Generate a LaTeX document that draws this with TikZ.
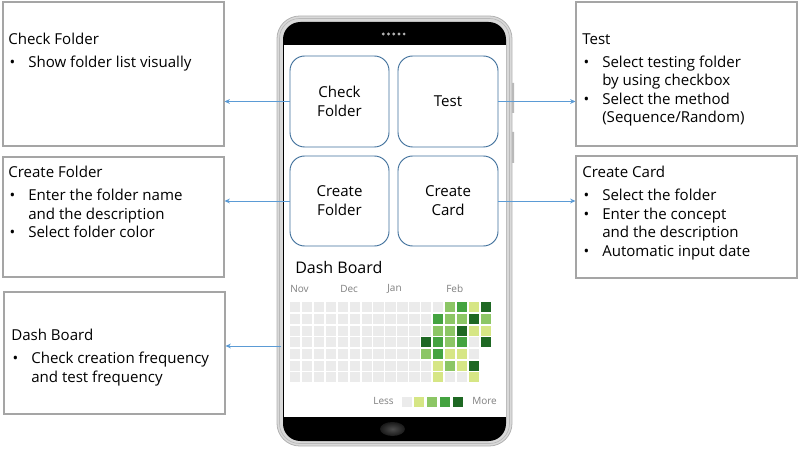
\documentclass[tikz,border=0pt]{standalone}
\usepackage{fontspec}
\setmainfont{Open Sans}
\usetikzlibrary{arrows.meta,fit}

\definecolor{boxline}{HTML}{A5A5A5}
\definecolor{linkblue}{HTML}{5B9BD5}
\definecolor{btnline}{HTML}{41719C}
\definecolor{lvlzero}{HTML}{EBEBEB}
\definecolor{lvlone}{HTML}{D6E685}
\definecolor{lvltwo}{HTML}{8CC665}
\definecolor{lvlthree}{HTML}{44A340}
\definecolor{lvlfour}{HTML}{1E6823}
\definecolor{monthgray}{HTML}{7F7F7F}

\newcommand{\bul}{\makebox[15pt][l]{\hspace{1pt}\textbullet}}
\newcommand{\cont}{\hspace*{15pt}}

\tikzset{
  infobox/.style={draw=boxline, line width=.8pt, inner sep=0pt},
  infotext/.style={anchor=north west, inner sep=0pt, align=left, font=\fontsize{11.3}{13.9}\selectfont},
  appbtn/.style={draw=btnline, line width=.7pt, rounded corners=11pt, inner sep=0pt},
  btntext/.style={inner sep=0pt, align=center, font=\fontsize{11.3}{14.2}\selectfont},
  link/.style={draw=linkblue, line width=.6pt, ->},
  month/.style={anchor=west, inner sep=0pt, text=monthgray, font=\fontsize{7.5}{9}\selectfont}
}

\begin{document}
\begin{tikzpicture}[x=0.75pt,y=-0.75pt,>={Stealth[length=4pt,width=3.6pt]}]
\useasboundingbox (0,0) rectangle (800,449);

\fill[gray!55] (509,83) rectangle (514,113) (509,132) rectangle (514,163);
\draw[gray!60,fill=gray!30,line width=.6pt,rounded corners=17pt] (277,16) rectangle (512,446);
\draw[gray!55,line width=.5pt,rounded corners=15pt] (279.5,18.5) rectangle (509.5,443.5);
\fill[black,rounded corners=13pt] (283,22) rectangle (506,441);
\fill[white] (283.5,45) rectangle (505.5,417);
\foreach \i in {0,...,4}
	\fill[gray!60] ({383.3+5.2*\i},34) circle (1.6);
\shade[inner color=gray!60!black, outer color=black!90] (392.5,429) ellipse (12.5 and 7);

\node[appbtn, fit={(290,56) (389,147)}] (btnCheck) {};
\node[appbtn, fit={(398,56) (498,147)}] (btnTest) {};
\node[appbtn, fit={(290,156) (389,246)}] (btnFolder) {};
\node[appbtn, fit={(398,156) (498,246)}] (btnCard) {};
\node[btntext] (lblCheck) at (btnCheck.center) {Check\\Folder};
\node[btntext] (lblTest) at (btnTest.center) {Test};
\node[btntext] (lblFolder) at (btnFolder.center) {Create\\Folder};
\node[btntext] (lblCard) at (btnCard.center) {Create\\Card};

\node[anchor=west, inner sep=0pt, font=\fontsize{12}{14}\selectfont] (dashTitle) at (295,267) {Dash Board};
\node[month] (mNov) at (290,289) {Nov};
\node[month] (mDec) at (340,289) {Dec};
\node[month] (mJan) at (387,289) {Jan};
\node[month] (mFeb) at (446,289) {Feb};

\foreach \c in {0,...,15}
	\foreach \r in {0,...,6}
		\fill[lvlzero] ({290+11.92*\c},{302.3+11.67*\r}) rectangle +(10.3,10);
\foreach \r in {0,...,3}
	\fill[lvlzero] ({290+11.92*16},{302.3+11.67*\r}) rectangle +(10.3,10);
\foreach \c/\r in {15/0,15/2,16/2,13/4,14/4,12/5,14/5,12/6,15/6}
	\fill[lvlone] ({290+11.92*\c},{302.3+11.67*\r}) rectangle +(10.3,10);
\foreach \c/\r in {13/0,13/1,14/1,16/1,12/2,13/2,13/3,11/4,13/5}
	\fill[lvltwo] ({290+11.92*\c},{302.3+11.67*\r}) rectangle +(10.3,10);
\foreach \c/\r in {14/0,12/1,12/3,14/3,12/4}
	\fill[lvlthree] ({290+11.92*\c},{302.3+11.67*\r}) rectangle +(10.3,10);
\foreach \c/\r in {16/0,15/1,14/2,11/3,16/3,15/5}
	\fill[lvlfour] ({290+11.92*\c},{302.3+11.67*\r}) rectangle +(10.3,10);

\node[month, anchor=east] (lgLess) at (394,401) {Less};
\foreach \lvl [count=\i from 0] in {lvlzero,lvlone,lvltwo,lvlthree,lvlfour}
	\fill[\lvl] ({401.7+12.7*\i},396.5) rectangle +(10,10);
\node[month] (lgMore) at (472,401) {More};

\node[infobox, fit={(3,2) (224,146)}] (boxCheck) {};
\node[infobox, fit={(576,2) (797,146)}] (boxTest) {};
\node[infobox, fit={(3,157) (224,277)}] (boxFolder) {};
\node[infobox, fit={(576,156) (797,278)}] (boxCard) {};
\node[infobox, fit={(4,292) (225,414)}] (boxDash) {};

\node[infotext] (txtCheck) at (8,33) {Check Folder\\[3.35pt]\bul Show folder list visually};
\node[infotext] (txtTest) at (582,33) {Test\\[3.35pt]\bul Select testing folder\\\cont by using checkbox\\\bul Select the method\\\cont (Sequence/Random)};
\node[infotext] (txtFolder) at (8,166) {Create Folder\\[3.35pt]\bul Enter the folder name\\\cont and the description\\\bul Select folder color};
\node[infotext] (txtCard) at (582,166) {Create Card\\[3.35pt]\bul Select the folder\\\bul Enter the concept\\\cont and the description\\\bul Automatic input date};
\node[infotext] (txtDash) at (11,329) {Dash Board\\[3.35pt]\bul Check creation frequency\\\cont and test frequency};

\draw[link] (btnCheck.west) -- (btnCheck.west -| boxCheck.east);
\draw[link] (btnFolder.west) -- (btnFolder.west -| boxFolder.east);
\draw[link] (btnTest.east) -- (btnTest.east -| boxTest.west);
\draw[link] (btnCard.east) -- (btnCard.east -| boxCard.west);
\coordinate (dashSrc) at (281,346);
\draw[link] (dashSrc) -- (dashSrc -| boxDash.east);
\end{tikzpicture}
\end{document}
